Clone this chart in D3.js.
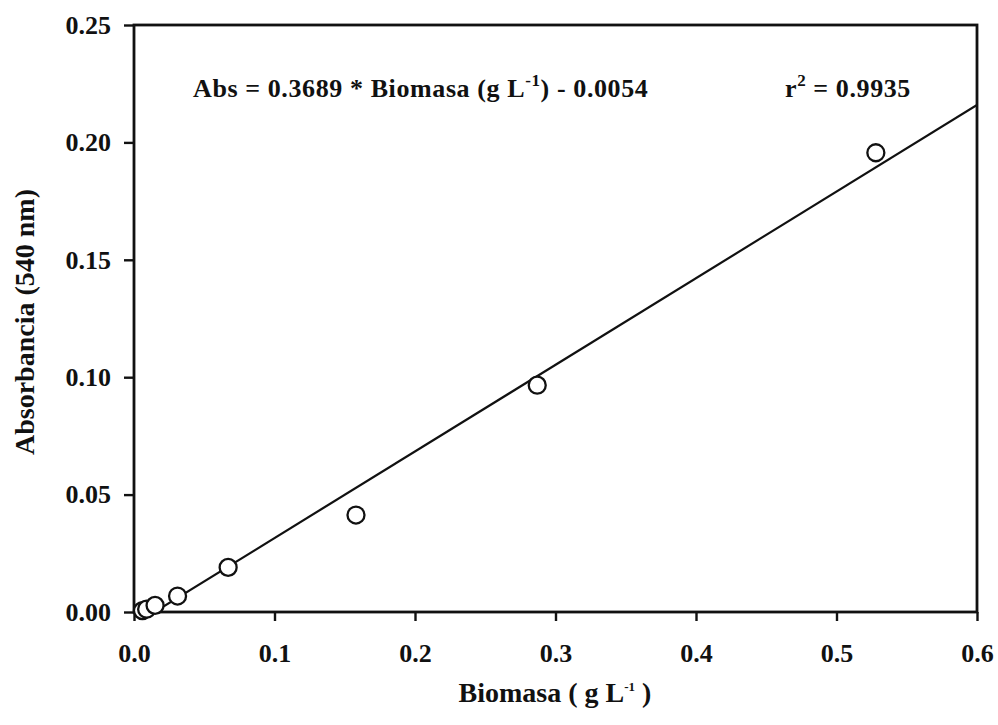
<!DOCTYPE html>
<html>
<head>
<meta charset="utf-8">
<script src="https://cdn.jsdelivr.net/npm/d3@7"></script>
<style>
  html, body { margin: 0; padding: 0; background: #fff; }
  svg text { font-family: "Liberation Serif", "Times New Roman", serif; font-weight: bold; fill: #111; }
</style>
</head>
<body>
<svg id="chart" width="998" height="725"></svg>
<script>
// Calibration data: biomass (g/L) vs absorbance at 540 nm
const biomasa = [0.006, 0.009, 0.015, 0.031, 0.067, 0.158, 0.287, 0.528];
const absorbancia = [0.0006, 0.0012, 0.0028, 0.0068, 0.0190, 0.0413, 0.0966, 0.1956];

// Linear fit reported for the calibration
const slope = 0.3689;
const intercept = -0.0054;
const r2 = 0.9935;

const xTicks = [0.0, 0.1, 0.2, 0.3, 0.4, 0.5, 0.6];
const yTicks = [0.00, 0.05, 0.10, 0.15, 0.20, 0.25];

const svg = d3.select("#chart");
const plot = { left: 134, right: 977, top: 25, bottom: 612 };

const x = d3.scaleLinear().domain([0, 0.6]).range([plot.left, plot.right]);
const y = d3.scaleLinear().domain([0, 0.25]).range([plot.bottom, plot.top]);

// Axes with outward ticks
const xAxis = d3.axisBottom(x).tickValues(xTicks).tickFormat(d3.format(".1f")).tickSize(9).tickPadding(23);
const yAxis = d3.axisLeft(y).tickValues(yTicks).tickFormat(d3.format(".2f")).tickSize(10).tickPadding(13);

const gx = svg.append("g").attr("transform", `translate(0,${plot.bottom})`).call(xAxis);
const gy = svg.append("g").attr("transform", `translate(${plot.left},0)`).call(yAxis);
[gx, gy].forEach(g => {
  g.select(".domain").remove();
  g.selectAll(".tick line").attr("stroke", "#111").attr("stroke-width", 2.4);
  g.selectAll(".tick text").attr("font-size", 26).attr("fill", "#111")
    .attr("font-family", "'Liberation Serif', 'Times New Roman', serif");
});

// Frame
svg.append("rect")
  .attr("x", plot.left).attr("y", plot.top)
  .attr("width", plot.right - plot.left).attr("height", plot.bottom - plot.top)
  .attr("fill", "none").attr("stroke", "#111").attr("stroke-width", 2.8);

// Clip for the fitted line
svg.append("clipPath").attr("id", "plotclip")
  .append("rect").attr("x", plot.left).attr("y", plot.top)
  .attr("width", plot.right - plot.left).attr("height", plot.bottom - plot.top);

const fitX = [0, 0.6];
svg.append("line")
  .attr("clip-path", "url(#plotclip)")
  .attr("x1", x(fitX[0])).attr("y1", y(slope * fitX[0] + intercept))
  .attr("x2", x(fitX[1])).attr("y2", y(slope * fitX[1] + intercept))
  .attr("stroke", "#111").attr("stroke-width", 2.2);

// Data points
svg.append("g").selectAll("circle")
  .data(biomasa.map((b, i) => [b, absorbancia[i]]))
  .join("circle")
  .attr("cx", d => x(d[0]))
  .attr("cy", d => y(d[1]))
  .attr("r", 8.5)
  .attr("fill", "#fff")
  .attr("stroke", "#111")
  .attr("stroke-width", 2.3);

// Equation annotation
const eq = svg.append("text").attr("x", 193).attr("y", 97)
  .attr("font-size", 26).attr("letter-spacing", 0.6);
eq.append("tspan").text("Abs = " + slope.toFixed(4) + " * Biomasa (g L");
eq.append("tspan").attr("dy", -11).attr("font-size", 17).text("-1");
eq.append("tspan").attr("dy", 11).text(") - " + Math.abs(intercept).toFixed(4));

const rt = svg.append("text").attr("x", 785).attr("y", 97)
  .attr("font-size", 26).attr("letter-spacing", 0.6);
rt.append("tspan").text("r");
rt.append("tspan").attr("dy", -11).attr("font-size", 17).text("2");
rt.append("tspan").attr("dy", 11).text(" = " + r2.toFixed(4));

// Axis titles
const xt = svg.append("text").attr("x", 555).attr("y", 702).attr("text-anchor", "middle").attr("font-size", 28);
xt.append("tspan").text("Biomasa ( g L");
xt.append("tspan").attr("dy", -11).attr("font-size", 13).text("-1");
xt.append("tspan").attr("dy", 11).text(" )");

svg.append("text")
  .attr("transform", `translate(34,322) rotate(-90)`)
  .attr("text-anchor", "middle")
  .attr("font-size", 28)
  .text("Absorbancia (540 nm)");
</script>
</body>
</html>
